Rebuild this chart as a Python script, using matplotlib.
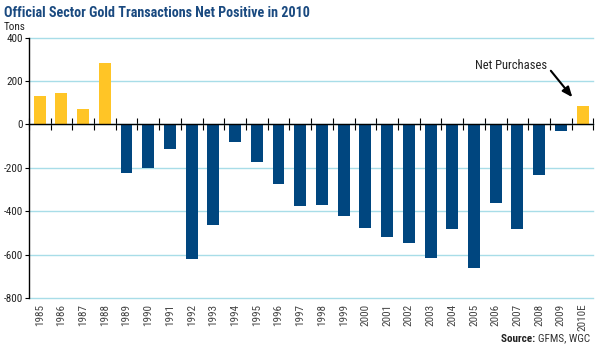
import matplotlib
matplotlib.use("Agg")
import matplotlib.pyplot as plt
import numpy as np

years = ["1985", "1986", "1987", "1988", "1989", "1990", "1991", "1992", "1993",
         "1994", "1995", "1996", "1997", "1998", "1999", "2000", "2001", "2002",
         "2003", "2004", "2005", "2006", "2007", "2008", "2009", "2010E"]
net_tons = [131, 143, 71, 285, -225, -200, -112, -619, -463, -82, -174, -276,
            -377, -371, -420, -476, -519, -545, -615, -481, -664, -363, -482,
            -232, -31, 86]
y_ticks = [400, 200, 0, -200, -400, -600, -800]

YELLOW = "#FFC526"
BLUE = "#00467F"
GRID = "#A8DDE8"
TITLE = "#1A4A80"
FONT = ["Roboto Condensed", "DejaVu Sans"]

plt.rcParams["font.family"] = FONT
plt.rcParams["font.stretch"] = "condensed"

fig = plt.figure(figsize=(6.0, 3.51), dpi=100)
ax = fig.add_axes([0.048, 0.151, 0.941, 0.742])

x = np.arange(len(years))
colors = [YELLOW if v > 0 else BLUE for v in net_tons]
ax.bar(x, net_tons, width=0.55, color=colors, zorder=3)

ax.set_xlim(-0.5, len(years) - 0.5)
ax.set_ylim(-800, 400)

ax.set_yticks(y_ticks)
ax.set_yticklabels([str(t) for t in y_ticks], fontsize=8, color="#222222")
ax.yaxis.grid(True, color=GRID, linewidth=1.0, zorder=0)
for gl in ax.yaxis.get_gridlines():
    gl.set_clip_on(False)
ax.tick_params(axis="y", direction="out", length=3, width=0.8, pad=1, color="black")

ax.spines["bottom"].set_position(("data", 0))
ax.spines["bottom"].set_zorder(4)
ax.spines["bottom"].set_linewidth(1.0)
ax.spines["top"].set_visible(False)
ax.spines["right"].set_visible(False)
ax.spines["left"].set_linewidth(1.0)
ax.set_xticks(np.arange(-0.5, len(years), 1.0))
ax.set_xticklabels([])
ax.tick_params(axis="x", direction="inout", length=8, width=0.8, color="black")

sec = ax.secondary_xaxis(0.0)
sec.set_xticks(x)
sec.set_xticklabels(years, rotation=90, fontsize=8, color="#444444")
sec.tick_params(axis="x", length=0, pad=4)
sec.spines["bottom"].set_visible(False)

fig.text(0.006, 0.963, "Official Sector Gold Transactions Net Positive in 2010",
         fontsize=10.2, fontweight="bold", color=TITLE, va="center", ha="left")
fig.text(0.006, 0.922, "Tons", fontsize=8, va="center", ha="left", color="#222222")

ax.annotate("Net Purchases", xy=(x[-1] - 3.3, 270), fontsize=9,
            ha="center", va="center", color="#222222")
ax.annotate("", xy=(x[-1] - 0.47, net_tons[-1] + 39), xytext=(x[-1] - 1.46, 247),
            arrowprops=dict(arrowstyle="-|>,head_length=0.6,head_width=0.25",
                            color="black", lw=1.5, shrinkA=0, shrinkB=0))

src = fig.text(0.984, 0.035, "GFMS, WGC", fontsize=8, ha="right", va="center",
               color="#333333")
ax.annotate("Source: ", xy=(0, 0.5), xycoords=src, fontsize=8, fontweight="bold",
            ha="right", va="center", color="#222222", annotation_clip=False)

fig.savefig("out.png", dpi=100)
